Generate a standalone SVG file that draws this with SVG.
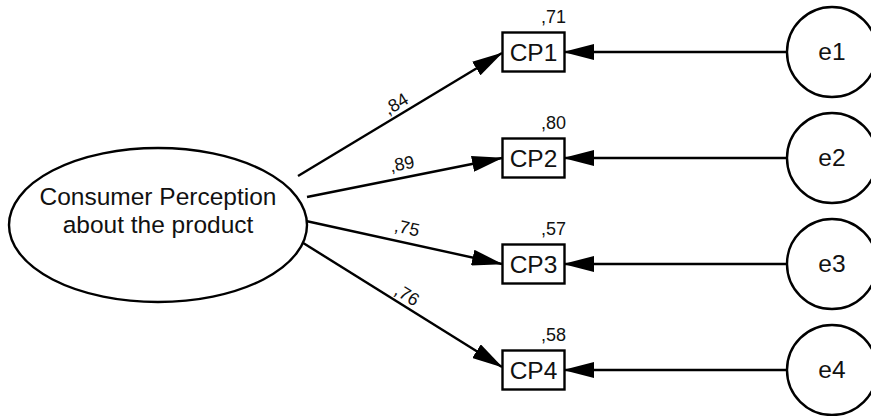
<svg xmlns="http://www.w3.org/2000/svg" width="871" height="416" viewBox="0 0 871 416">
<style>
.shape{fill:#fff;stroke:#000;stroke-width:2.4}
.lbl{font-family:"Liberation Sans",Arial,sans-serif;fill:#111}
.big{font-size:24.5px;text-anchor:middle}
.obs{font-size:24.5px;text-anchor:middle}
.r2{font-size:18px;text-anchor:end}
.w{font-size:18px;text-anchor:middle}
.conn{stroke:#000;stroke-width:2.4;fill:none;marker-end:url(#ah)}
</style>
<defs>
<marker id="ah" markerUnits="userSpaceOnUse" markerWidth="31" markerHeight="16" refX="30" refY="8" orient="auto" viewBox="0 0 31 16">
<path d="M0,0 L31,8 L0,16 Z" fill="#000"/>
</marker>
</defs>
<g id="connectors">
<line class="conn" x1="298" y1="176" x2="502" y2="53"/>
<line class="conn" x1="307" y1="197" x2="502" y2="158"/>
<line class="conn" x1="306" y1="221" x2="502" y2="264"/>
<line class="conn" x1="300" y1="241" x2="502" y2="367"/>
<line class="conn" x1="787" y1="52" x2="564" y2="52"/>
<line class="conn" x1="787" y1="158" x2="564" y2="158"/>
<line class="conn" x1="787" y1="264" x2="564" y2="264"/>
<line class="conn" x1="787" y1="370" x2="564" y2="370"/>
<text class="lbl w" transform="translate(396,104) rotate(-31)" y="6">,84</text>
<text class="lbl w" transform="translate(402,164) rotate(-11.3)" y="6">,89</text>
<text class="lbl w" transform="translate(407,228) rotate(12.5)" y="6">,75</text>
<text class="lbl w" transform="translate(407,295) rotate(31.8)" y="6">,76</text>
</g>
<g id="latent">
<ellipse class="shape" cx="158" cy="225" rx="149" ry="77"/>
<text class="lbl big" x="158" y="205">Consumer Perception</text>
<text class="lbl big" x="158" y="233">about the product</text>
</g>
<g id="CP1">
<rect class="shape" x="502.5" y="32.5" width="62" height="39"/>
<text class="lbl obs" x="533.5" y="60.5">CP1</text>
<text class="lbl r2" x="566" y="22.5">,71</text>
</g>
<g id="CP2">
<rect class="shape" x="502.5" y="138.5" width="62" height="39"/>
<text class="lbl obs" x="533.5" y="166.5">CP2</text>
<text class="lbl r2" x="566" y="128.5">,80</text>
</g>
<g id="CP3">
<rect class="shape" x="502.5" y="244.5" width="62" height="39"/>
<text class="lbl obs" x="533.5" y="272.5">CP3</text>
<text class="lbl r2" x="566" y="234.5">,57</text>
</g>
<g id="CP4">
<rect class="shape" x="502.5" y="350.5" width="62" height="39"/>
<text class="lbl obs" x="533.5" y="378.5">CP4</text>
<text class="lbl r2" x="566" y="340.5">,58</text>
</g>
<g id="e1">
<circle class="shape" cx="832" cy="52" r="45"/>
<text class="lbl obs" x="832" y="60">e1</text>
</g>
<g id="e2">
<circle class="shape" cx="832" cy="158" r="45"/>
<text class="lbl obs" x="832" y="166">e2</text>
</g>
<g id="e3">
<circle class="shape" cx="832" cy="264" r="45"/>
<text class="lbl obs" x="832" y="272">e3</text>
</g>
<g id="e4">
<circle class="shape" cx="832" cy="370" r="45"/>
<text class="lbl obs" x="832" y="378">e4</text>
</g>
</svg>
